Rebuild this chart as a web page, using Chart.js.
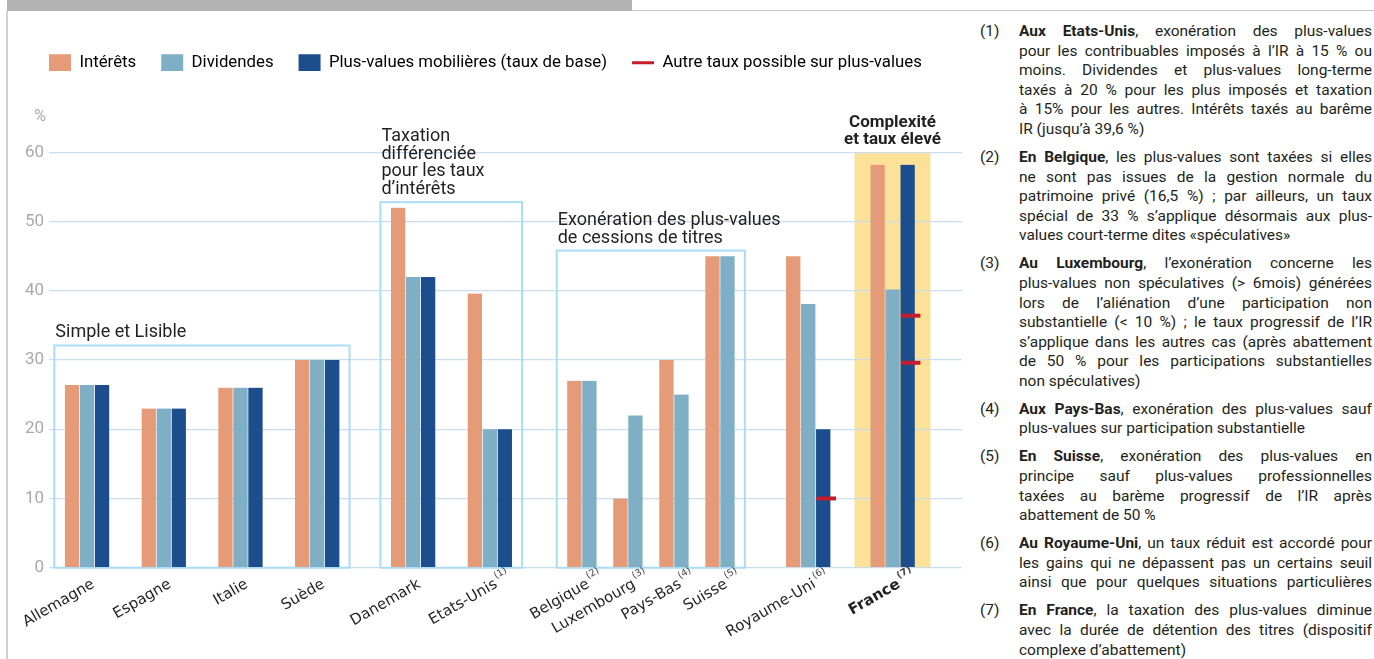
<!DOCTYPE html>
<html lang="fr">
<head>
<meta charset="utf-8">
<title>Taxation des revenus du capital</title>
<script src="https://cdn.jsdelivr.net/npm/chart.js@4.4.1/dist/chart.umd.min.js"></script>
<style>
    html, body { margin: 0; padding: 0; background: #fff; }
    body { width: 1374px; height: 659px; position: relative; overflow: hidden; font-family: Roboto, "Noto Sans", sans-serif; color: #231f20; }
    .topBar { position: absolute; left: 7px; top: 0; width: 625px; height: 11px; background: #b3b3b3; }
    .topLine { position: absolute; left: 632px; top: 10px; right: 0; height: 1px; background: #c6c6c6; }
    .leftLine { position: absolute; left: 6px; top: 11px; bottom: 0; width: 2px; background: #d0d0d0; }
    .chartBox { position: absolute; left: 8px; top: 14px; width: 958px; height: 645px; }
    .notes { position: absolute; left: 980px; top: 22px; width: 392px; font-size: 15.5px; line-height: 19.6px; }
    .note { display: flex; margin-bottom: 8.4px; }
    .note .num { width: 39px; flex: none; }
    .note .txt { flex: 1; }
    .note .txt span { display: block; white-space: nowrap; text-align: justify; text-align-last: justify; }
    .note .txt span.last { text-align: left; text-align-last: left; }
    .note b { font-weight: 700; }
</style>
</head>
<body>
<div class="topBar"></div>
<div class="topLine"></div>
<div class="leftLine"></div>
<div class="chartBox"><canvas id="taxChart"></canvas></div>

<div class="notes">
    <div class="note"><div class="num">(1)</div><div class="txt">
        <span><b>Aux Etats-Unis</b>, exonération des plus-values</span>
        <span>pour les contribuables imposés à l’IR à 15 % ou</span>
        <span>moins. Dividendes et plus-values long-terme</span>
        <span>taxés à 20 % pour les plus imposés et taxation</span>
        <span>à 15% pour les autres. Intérêts taxés au barême</span>
        <span class="last">IR (jusqu’à 39,6 %)</span>
    </div></div>
    <div class="note"><div class="num">(2)</div><div class="txt">
        <span><b>En Belgique</b>, les plus-values sont taxées si elles</span>
        <span>ne sont pas issues de la gestion normale du</span>
        <span>patrimoine privé (16,5 %) ; par ailleurs, un taux</span>
        <span>spécial de 33 % s’applique désormais aux plus-</span>
        <span class="last">values court-terme dites «spéculatives»</span>
    </div></div>
    <div class="note"><div class="num">(3)</div><div class="txt">
        <span><b>Au Luxembourg</b>, l’exonération concerne les</span>
        <span>plus-values non spéculatives (&gt; 6mois) générées</span>
        <span>lors de l’aliénation d’une participation non</span>
        <span>substantielle (&lt; 10 %) ; le taux progressif de l’IR</span>
        <span>s’applique dans les autres cas (après abattement</span>
        <span>de 50 % pour les participations substantielles</span>
        <span class="last">non spéculatives)</span>
    </div></div>
    <div class="note"><div class="num">(4)</div><div class="txt">
        <span><b>Aux Pays-Bas</b>, exonération des plus-values sauf</span>
        <span class="last">plus-values sur participation substantielle</span>
    </div></div>
    <div class="note"><div class="num">(5)</div><div class="txt">
        <span><b>En Suisse</b>, exonération des plus-values en</span>
        <span>principe sauf plus-values professionnelles</span>
        <span>taxées au barème progressif de l’IR après</span>
        <span class="last">abattement de 50 %</span>
    </div></div>
    <div class="note"><div class="num">(6)</div><div class="txt">
        <span><b>Au Royaume-Uni</b>, un taux réduit est accordé pour</span>
        <span>les gains qui ne dépassent pas un certains seuil</span>
        <span>ainsi que pour quelques situations particulières</span>
    </div></div>
    <div class="note"><div class="num">(7)</div><div class="txt">
        <span><b>En France</b>, la taxation des plus-values diminue</span>
        <span>avec la durée de détention des titres (dispositif</span>
        <span class="last">complexe d’abattement)</span>
    </div></div>
</div>

<script>
// Data (%)
var countries = ['Allemagne', 'Espagne', 'Italie', 'Suède', 'Danemark', 'Etats-Unis', 'Belgique', 'Luxembourg', 'Pays-Bas', 'Suisse', 'Royaume-Uni', 'France'];
var noteRefs = ['', '', '', '', '', '(1)', '(2)', '(3)', '(4)', '(5)', '(6)', '(7)'];
var interets = [26.4, 23, 26, 30, 52, 39.6, 27, 10, 30, 45, 45, 58.2];
var dividendes = [26.4, 23, 26, 30, 42, 20, 27, 22, 25, 45, 38.1, 40.2];
var plusValues = [26.4, 23, 26, 30, 42, 20, null, null, null, null, 20, 58.2];
var autreTaux = [null, null, null, null, null, null, null, null, null, null, [10], [36.4, 29.6]];
var yTicks = [0, 10, 20, 30, 40, 50, 60];

// Groups drawn as boxes (country indexes, box top in %)
var groups = [
    { lines: ['Simple et Lisible'], first: 0, last: 3, top: 32.1 },
    { lines: ['Taxation', 'différenciée', 'pour les taux', 'd’intérêts'], first: 4, last: 5, top: 52.8 },
    { lines: ['Exonération des plus-values', 'de cessions de titres'], first: 6, last: 9, top: 45.8 },
    { lines: ['Complexité', 'et taux élevé'], first: 11, last: 11, top: 60, highlight: true }
];

// Layout: countries sit on a fine category grid, gap in slots before each one
var slotGaps = [10, 20, 20, 20, 25, 20, 24, 12, 12, 12, 23, 22];
var slotCount = 239;

var colors = {
    interets: '#e59a78',
    dividendes: '#7eafc4',
    plusValues: '#1c4d8c',
    autre: '#c41e2e',
    grid: '#c9ddef',
    box: '#aadcf5',
    highlight: '#fce299',
    text: '#231f20',
    tick: '#a7a9ac'
};

var slots = [];
var pos = 0;
slotGaps.forEach(function (g) { pos += g; slots.push(pos); });

function spread(values) {
    var out = [];
    for (var i = 0; i < slotCount; i++) out.push(null);
    values.forEach(function (v, i) { out[slots[i]] = v; });
    return out;
}

var slotLabels = [];
for (var s = 0; s < slotCount; s++) {
    var k = slots.indexOf(s);
    slotLabels.push(k >= 0 ? countries[k] : '');
}

// Left/right pixel extent of the bars of one country
function countryExtent(chart, idx) {
    var left = Infinity, right = -Infinity;
    chart.data.datasets.forEach(function (ds, d) {
        var el = chart.getDatasetMeta(d).data[slots[idx]];
        if (ds.data[slots[idx]] === null || !el) return;
        left = Math.min(left, el.x - el.width / 2);
        right = Math.max(right, el.x + el.width / 2 - 1);
    });
    return { left: left, right: right };
}

function groupRect(chart, g) {
    var pad = g.highlight ? 16 : 10.5;
    var a = countryExtent(chart, g.first);
    var b = countryExtent(chart, g.last);
    return {
        left: a.left - pad,
        right: b.right + pad,
        top: chart.scales.y.getPixelForValue(g.top),
        bottom: chart.scales.y.getPixelForValue(0)
    };
}

var annotations = {
    id: 'annotations',
    afterInit: function (chart) {
        // fixed legend block height so the plot starts where the original does
        var fit = chart.legend.fit;
        chart.legend.fit = function () {
            fit.call(this);
            this.height = 123;
        };
    },
    beforeDraw: function (chart) {
        var ctx = chart.ctx;
        groups.forEach(function (g) {
            if (!g.highlight) return;
            var r = groupRect(chart, g);
            ctx.save();
            ctx.fillStyle = colors.highlight;
            ctx.fillRect(r.left, r.top, r.right - r.left, r.bottom - r.top);
            ctx.restore();
        });
    },
    beforeDatasetsDraw: function (chart) {
        var ctx = chart.ctx;
        groups.forEach(function (g) {
            if (g.highlight) return;
            var r = groupRect(chart, g);
            ctx.save();
            ctx.strokeStyle = colors.box;
            ctx.lineWidth = 2;
            ctx.strokeRect(r.left, r.top, r.right - r.left, r.bottom - r.top);
            ctx.restore();
        });
    },
    afterDatasetsDraw: function (chart) {
        var ctx = chart.ctx;
        var y = chart.scales.y;
        var blueMeta = chart.getDatasetMeta(2);

        // other possible rates on capital gains
        autreTaux.forEach(function (vals, i) {
            if (!vals) return;
            var el = blueMeta.data[slots[i]];
            vals.forEach(function (v) {
                ctx.save();
                ctx.fillStyle = colors.autre;
                ctx.fillRect(el.x - el.width / 2 + 0.5, y.getPixelForValue(v) - 2, el.width + 4.5, 4);
                ctx.restore();
            });
        });

        // group titles
        groups.forEach(function (g) {
            var r = groupRect(chart, g);
            ctx.save();
            ctx.fillStyle = colors.text;
            ctx.textBaseline = 'alphabetic';
            ctx.font = (g.highlight ? 'bold 17px' : '18px') + ' Roboto';
            ctx.textAlign = g.highlight ? 'center' : 'left';
            var tx = g.highlight ? (r.left + r.right) / 2 : r.left + 1;
            var n = g.lines.length;
            g.lines.forEach(function (line, j) {
                ctx.fillText(line, tx, r.top - 8 - (n - 1 - j) * 17.8);
            });
            ctx.restore();
        });
    },
    afterDraw: function (chart) {
        var ctx = chart.ctx;
        var area = chart.chartArea;
        var x = chart.scales.x;

        ctx.save();
        ctx.fillStyle = colors.tick;
        ctx.font = '16px Roboto';
        ctx.textAlign = 'center';
        ctx.textBaseline = 'middle';
        ctx.fillText('%', area.left - 9, area.top - 35);
        ctx.restore();

        // rotated country labels with note references
        countries.forEach(function (name, i) {
            var bold = name === 'France';
            ctx.save();
            ctx.translate(x.getPixelForValue(slots[i]) + 8, area.bottom + 19);
            ctx.rotate(-30 * Math.PI / 180);
            ctx.fillStyle = colors.text;
            ctx.textBaseline = 'alphabetic';
            ctx.textAlign = 'right';
            ctx.font = (bold ? 'bold ' : '') + '15px "DejaVu Sans"';
            ctx.fillText(name, 0, 0);
            if (noteRefs[i]) {
                ctx.textAlign = 'left';
                ctx.fillStyle = '#444';
                ctx.font = (bold ? 'bold ' : '') + '9.5px "DejaVu Sans"';
                ctx.fillText(noteRefs[i], 2, -8);
            }
            ctx.restore();
        });
    }
};

document.addEventListener("DOMContentLoaded", function () {
    Chart.defaults.font.family = 'Roboto';
    Chart.defaults.color = colors.text;

    var barStyle = {
        barThickness: 15,
        borderWidth: { top: 0, right: 1, bottom: 0, left: 0 },
        borderColor: 'rgba(0,0,0,0)',
        borderSkipped: false,
        skipNull: true
    };

    var ctx = document.getElementById("taxChart").getContext('2d');
    var taxChart = new Chart(ctx, {
        type: 'bar',
        data: {
            labels: slotLabels,
            datasets: [
                Object.assign({ label: 'Intérêts', data: spread(interets), backgroundColor: colors.interets }, barStyle),
                Object.assign({ label: 'Dividendes', data: spread(dividendes), backgroundColor: colors.dividendes }, barStyle),
                Object.assign({ label: 'Plus-values mobilières (taux de base)', data: spread(plusValues), backgroundColor: colors.plusValues }, barStyle)
            ]
        },
        options: {
            responsive: true,
            maintainAspectRatio: false,
            animation: false,
            layout: { padding: { top: 15.3, left: 16, right: 4, bottom: 91.3 } },
            plugins: {
                tooltip: { enabled: false },
                legend: {
                    position: 'top',
                    align: 'start',
                    labels: {
                        usePointStyle: true,
                        pointStyleWidth: 22,
                        boxHeight: 19,
                        padding: 25,
                        color: colors.text,
                        font: { size: 16.8 },
                        generateLabels: function (chart) {
                            var items = chart.data.datasets.map(function (ds, i) {
                                return { text: ds.label, fillStyle: ds.backgroundColor, strokeStyle: ds.backgroundColor, lineWidth: 0, pointStyle: 'rect', datasetIndex: i, hidden: false };
                            });
                            items.push({ text: 'Autre taux possible sur plus-values', fillStyle: colors.autre, strokeStyle: colors.autre, lineWidth: 3, pointStyle: 'line', hidden: false });
                            return items;
                        }
                    }
                }
            },
            scales: {
                x: { display: false, offset: false },
                y: {
                    min: 0,
                    max: 60,
                    afterFit: function (scale) { scale.width = 25; },
                    afterBuildTicks: function (scale) {
                        scale.ticks = yTicks.map(function (v) { return { value: v }; });
                    },
                    grid: { color: colors.grid, lineWidth: 1.3, drawTicks: false },
                    border: { display: false },
                    ticks: { padding: 5, color: colors.tick, font: { size: 17 } }
                }
            }
        },
        plugins: [annotations]
    });
});
</script>
</body>
</html>
